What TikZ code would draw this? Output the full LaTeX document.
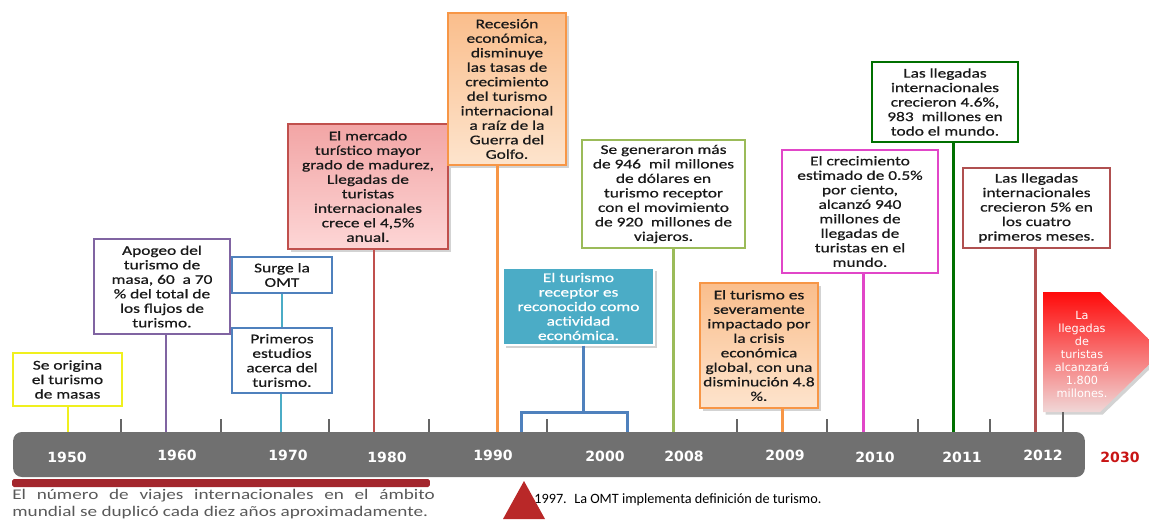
\documentclass[tikz,border=0pt]{standalone}
\usepackage{fontspec}
\setmainfont{Carlito}
\newfontfamily\caja[FakeStretch=1.3, FakeBold=0.6]{Carlito}
\newfontfamily\notas[FakeStretch=1.3]{Carlito}
\newfontfamily\verd{DejaVu Sans}
\usetikzlibrary{shadows}

\definecolor{amarillo}{RGB}{240,240,30}
\definecolor{morado}{RGB}{128,100,162}
\definecolor{azul}{RGB}{79,129,189}
\definecolor{celeste}{RGB}{75,172,198}
\definecolor{rojo}{RGB}{192,80,77}
\definecolor{rosa1}{RGB}{242,165,165}
\definecolor{rosa2}{RGB}{253,214,214}
\definecolor{naranja}{RGB}{247,150,70}
\definecolor{naranja1}{RGB}{250,190,140}
\definecolor{naranja2}{RGB}{253,228,205}
\definecolor{verde}{RGB}{155,187,89}
\definecolor{magenta}{RGB}{225,70,200}
\definecolor{verdeosc}{RGB}{0,112,0}
\definecolor{granate}{RGB}{176,80,80}
\definecolor{gris}{RGB}{112,112,112}
\definecolor{rojovivo}{RGB}{255,10,10}
\definecolor{rosapalido}{RGB}{240,215,215}
\definecolor{rojooscuro}{RGB}{200,20,20}
\definecolor{franja}{RGB}{163,38,45}
\definecolor{tinta}{RGB}{25,25,25}
\definecolor{grisnota}{RGB}{89,89,89}
\definecolor{rojotri}{RGB}{185,40,40}

\begin{document}
\begin{tikzpicture}[x=0.02cm, y=-0.02cm,
  base/.style={draw, align=center, inner sep=0pt, text=tinta, font=\caja\fontsize{7.6}{8.25}\selectfont},
  caja/.style={base, line width=1.6pt, fill=white},
  rellena/.style={base, line width=0.6pt, drop shadow={shadow xshift=1.5pt, shadow yshift=-1.5pt, opacity=0.35}},
  linea/.style={line width=1.7pt},
  marca/.style={line width=1.3pt, draw=gris!90!black},
  anio/.style={text=white, font=\verd\bfseries\fontsize{8}{9}\selectfont}]
\useasboundingbox (0,0) rectangle (1149,525);

% cajas de texto
\node[caja, draw=amarillo, minimum width=2.18cm, minimum height=1.06cm] (origen) at (67.5,379.5) {Se origina\\el turismo\\de masas};
\node[caja, draw=morado, minimum width=2.72cm, minimum height=1.9cm] (apogeo) at (162,286.5) {Apogeo del\\turismo de\\masa, 60 \ a 70\\\% del total de\\los flujos de\\turismo.};
\node[caja, draw=azul, line width=1.4pt, minimum width=2cm, minimum height=0.72cm] (omt) at (282,275) {Surge la\\OMT};
\node[caja, draw=azul, line width=1.4pt, minimum width=2cm, minimum height=1.3cm] (estudios) at (282,360.5) {Primeros\\estudios\\acerca del\\turismo.};
\node[rellena, draw=rojo, top color=rosa1, bottom color=rosa2, minimum width=3.2cm, minimum height=2.5cm] (mercado) at (368,186.5) {El mercado\\turístico mayor\\grado de madurez,\\Llegadas de\\turistas\\internacionales\\crece el 4,5\%\\anual.};
\node[rellena, draw=naranja, top color=naranja1, bottom color=naranja2, minimum width=2.36cm, minimum height=3.04cm] (recesion) at (507,89) {Recesión\\económica,\\disminuye\\las tasas de\\crecimiento\\del turismo\\internacional\\a raíz de la\\Guerra del\\Golfo.};
\node[rellena, draw=white, fill=celeste, text=white, minimum width=3.02cm, minimum height=1.54cm] (receptor) at (578.5,306.5) {El turismo\\receptor es\\reconocido como\\actividad\\económica.};
\node[caja, draw=verde, minimum width=3.26cm, minimum height=2.16cm] (generaron) at (663.5,194) {Se generaron más\\de 946 \ mil millones\\de dólares en\\turismo receptor\\con el movimiento\\de 920 \ millones de\\viajeros.};
\node[rellena, draw=naranja, top color=naranja1, bottom color=naranja2, minimum width=2.36cm, minimum height=2.5cm] (crisis) at (759,345.5) {El turismo es\\severamente\\impactado por\\la crisis\\económica\\global, con una\\disminución 4.8\\\%.};
\node[caja, draw=magenta, minimum width=3.12cm, minimum height=2.46cm] (estimado) at (860,211.5) {El crecimiento\\estimado de 0.5\%\\por ciento,\\alcanzó 940\\millones de\\llegadas de\\turistas en el\\mundo.};
\node[caja, draw=verdeosc, minimum width=2.92cm, minimum height=1.6cm] (mundo) at (945,102) {Las llegadas\\internacionales\\crecieron 4.6\%,\\983 \ millones en\\todo el mundo.};
\node[caja, draw=granate, minimum width=2.94cm, minimum height=1.6cm] (meses) at (1036.5,208) {Las llegadas\\internacionales\\crecieron 5\% en\\los cuatro\\primeros meses.};

% flecha 2030
\shade[top color=rojovivo, bottom color=rosapalido, drop shadow={shadow xshift=1.5pt, shadow yshift=-1.5pt, opacity=0.35}] (1043,292) -- (1100,292) -- (1162,352) -- (1100,412) -- (1043,412) -- cycle;
\node[text=white, align=center, font=\verd\fontsize{6.4}{7.4}\selectfont] (meta) at (1082,354) {La\\llegadas\\de\\turistas\\alcanzará\\1.800\\millones.};
\coordinate (flecha) at (1063,412);

% puntos sobre la barra
\coordinate (p1950) at (68,434);
\coordinate (p1960) at (166,434);
\coordinate (p1970) at (281,434);
\coordinate (p1980) at (374,434);
\coordinate (p1990) at (497,434);
\coordinate (p1997a) at (521,435);
\coordinate (p1997b) at (627,435);
\coordinate (llave) at (583,412);
\coordinate (p2008) at (673,434);
\coordinate (p2009) at (782,434);
\coordinate (p2010) at (863,434);
\coordinate (p2011) at (953,434);
\coordinate (p2012) at (1035,434);
\coordinate (p2030) at (1063,434);

% conectores
\draw[linea, amarillo] (p1950 |- origen.south) -- (p1950);
\draw[linea, morado] (p1960 |- apogeo.south) -- (p1960);
\draw[linea, celeste] (omt.south) -- (estudios.north);
\draw[linea, celeste] (p1970 |- estudios.south) -- (p1970);
\draw[linea, rojo] (p1980 |- mercado.south) -- (p1980);
\draw[linea, naranja] (p1990 |- recesion.south) -- (p1990);
\draw[linea, azul] (llave |- receptor.south) -- (llave);
\draw[linea, azul] (p1997a) -- (p1997a |- llave) -- (p1997b |- llave) -- (p1997b);
\draw[linea, verde] (p2008 |- generaron.south) -- (p2008);
\draw[linea, naranja] (p2009 |- crisis.south) -- (p2009);
\draw[linea, magenta] (p2010 |- estimado.south) -- (p2010);
\draw[linea, verdeosc] (p2011 |- mundo.south) -- (p2011);
\draw[linea, granate] (p2012 |- meses.south) -- (p2012);
\draw[marca] (flecha) -- (p2030);
\foreach \x in {121,221,329,429,547,737,827,918,990}
  \draw[marca] (\x,419) -- (\x,433);

% barra del tiempo
\node[fill=gris, rounded corners=5pt, inner sep=0pt, minimum width=21.44cm, minimum height=0.9cm] (barra) at (549,454.5) {};
\node[anio] (a1950) at (67,457) {1950};
\node[anio] (a1960) at (177,455) {1960};
\node[anio] (a1970) at (288,455) {1970};
\node[anio] (a1980) at (387,457) {1980};
\node[anio] (a1990) at (493,455) {1990};
\node[anio] (a2000) at (605,456) {2000};
\node[anio] (a2008) at (684,456) {2008};
\node[anio] (a2009) at (785,455) {2009};
\node[anio] (a2010) at (875,457) {2010};
\node[anio] (a2011) at (962,457) {2011};
\node[anio] (a2012) at (1043,455) {2012};
\node[anio, text=rojooscuro] (a2030) at (1120,457) {2030};

% notas inferiores
\node[fill=franja, rounded corners=1pt, inner sep=0pt, minimum width=8.36cm, minimum height=0.16cm] (franja) at (221,483) {};
\node[anchor=north west, inner sep=0pt, text width=8.45cm, align=justify, text=grisnota, font=\notas\fontsize{8.4}{9.7}\selectfont] (nota) at (12,489) {El número de viajes internacionales en el ámbito\linebreak mundial se duplicó cada diez años aproximadamente.};
\fill[rojotri] (524,481) -- (545,519) -- (503,519) -- cycle;
\node[anchor=west, inner sep=0pt, text=black, font=\fontsize{8.1}{10}\selectfont] (def97) at (534,500) {1997. \ La OMT implementa definición de turismo.};
\end{tikzpicture}
\end{document}
